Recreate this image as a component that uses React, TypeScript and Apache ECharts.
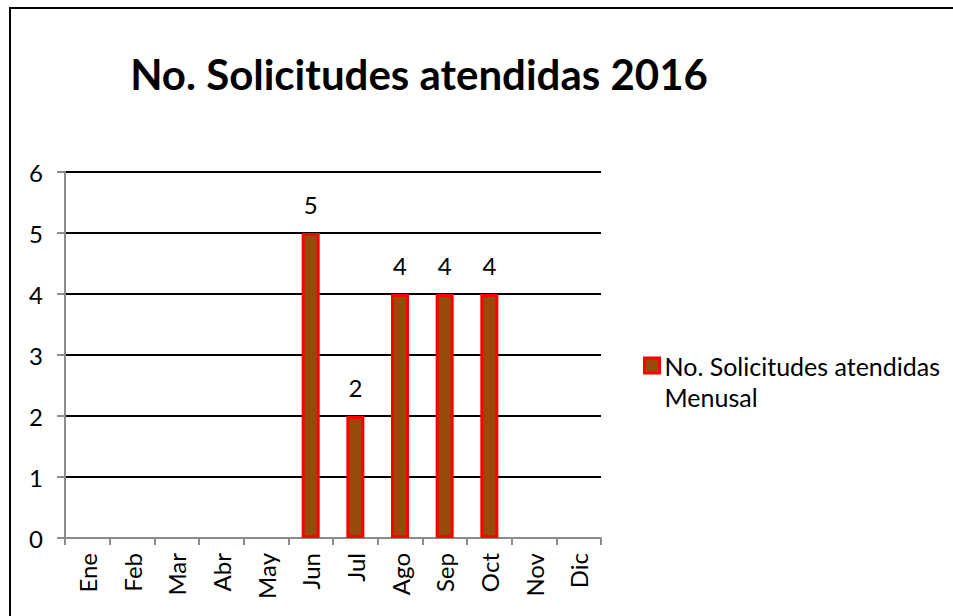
import React, { useEffect, useRef } from "react";
import * as echarts from "echarts";

const categories = ["Ene", "Feb", "Mar", "Abr", "May", "Jun", "Jul", "Ago", "Sep", "Oct", "Nov", "Dic"];
const values: (number | null)[] = [null, null, null, null, null, 5, 2, 4, 4, 4, null, null];
const seriesName = "No. Solicitudes atendidas Menusal";
const legendLines = ["No. Solicitudes atendidas", "Menusal"];
const titleText = "No. Solicitudes atendidas 2016";
const yMin = 0;
const yMax = 6;
const yInterval = 1;

const FONT = "Lato, 'Open Sans', sans-serif";

export default function App() {
  const ref = useRef<HTMLDivElement>(null);
  useEffect(() => {
    document.body.style.margin = "0";
    document.documentElement.style.overflow = "hidden";
    if (!ref.current) return;
    const chart = echarts.init(ref.current, undefined, { renderer: "svg" });
    chart.setOption({
      animation: false,
      backgroundColor: "#ffffff",
      textStyle: { fontFamily: FONT },
      title: {
        text: titleText,
        left: 414,
        top: 48,
        textAlign: "center",
        textStyle: { fontFamily: FONT, fontWeight: "bold", fontSize: 42, color: "#000" },
      },
      legend: {
        left: 638,
        top: 314,
        orient: "vertical",
        icon: "rect",
        itemWidth: 15,
        itemHeight: 15,
        itemStyle: { color: "#964B0A", borderColor: "#ff0000", borderWidth: 3 },
        formatter: () => "\n" + legendLines.join("\n"),
        textStyle: {
          fontFamily: FONT,
          fontSize: 25,
          color: "#000",
          lineHeight: 31,
        },
        data: [seriesName],
      },
      grid: { left: 65, top: 172, width: 536, height: 366, containLabel: false },
      xAxis: {
        type: "category",
        data: categories,
        axisLine: { lineStyle: { color: "#8c8c8c", width: 2 } },
        axisTick: { show: true, length: 7, lineStyle: { color: "#8c8c8c", width: 2 } },
        axisLabel: { rotate: 90, margin: 15, fontFamily: FONT, fontSize: 24, color: "#000" },
      },
      yAxis: {
        type: "value",
        min: yMin,
        max: yMax,
        interval: yInterval,
        axisLine: { show: true, lineStyle: { color: "#8c8c8c", width: 2 } },
        axisTick: { show: true, length: 8, lineStyle: { color: "#8c8c8c", width: 2 } },
        axisLabel: { margin: 22, fontFamily: FONT, fontSize: 24, color: "#000" },
        splitLine: { show: true, lineStyle: { color: "#000", width: 2 } },
      },
      series: [
        {
          name: seriesName,
          type: "bar",
          data: values,
          barWidth: 18,
          itemStyle: { color: "#964B0A", borderColor: "#ff0000", borderWidth: 3 },
          label: {
            show: true,
            position: "top",
            distance: 17,
            fontFamily: FONT,
            fontSize: 24,
            color: "#000",
          },
        },
      ],
    });
    return () => chart.dispose();
  }, []);
  return (
    <div style={{ position: "relative", width: 953, height: 616, overflow: "hidden" }}>
      <div ref={ref} style={{ position: "absolute", left: 0, top: 0, width: 953, height: 616 }} />
      <div
        style={{
          position: "absolute",
          left: 9,
          top: 7,
          width: 2,
          height: 700,
          background: "#000",
          pointerEvents: "none",
        }}
      />
      <div
        style={{
          position: "absolute",
          left: 9,
          top: 7,
          width: 1000,
          height: 2,
          background: "#000",
          pointerEvents: "none",
        }}
      />
    </div>
  );
}
